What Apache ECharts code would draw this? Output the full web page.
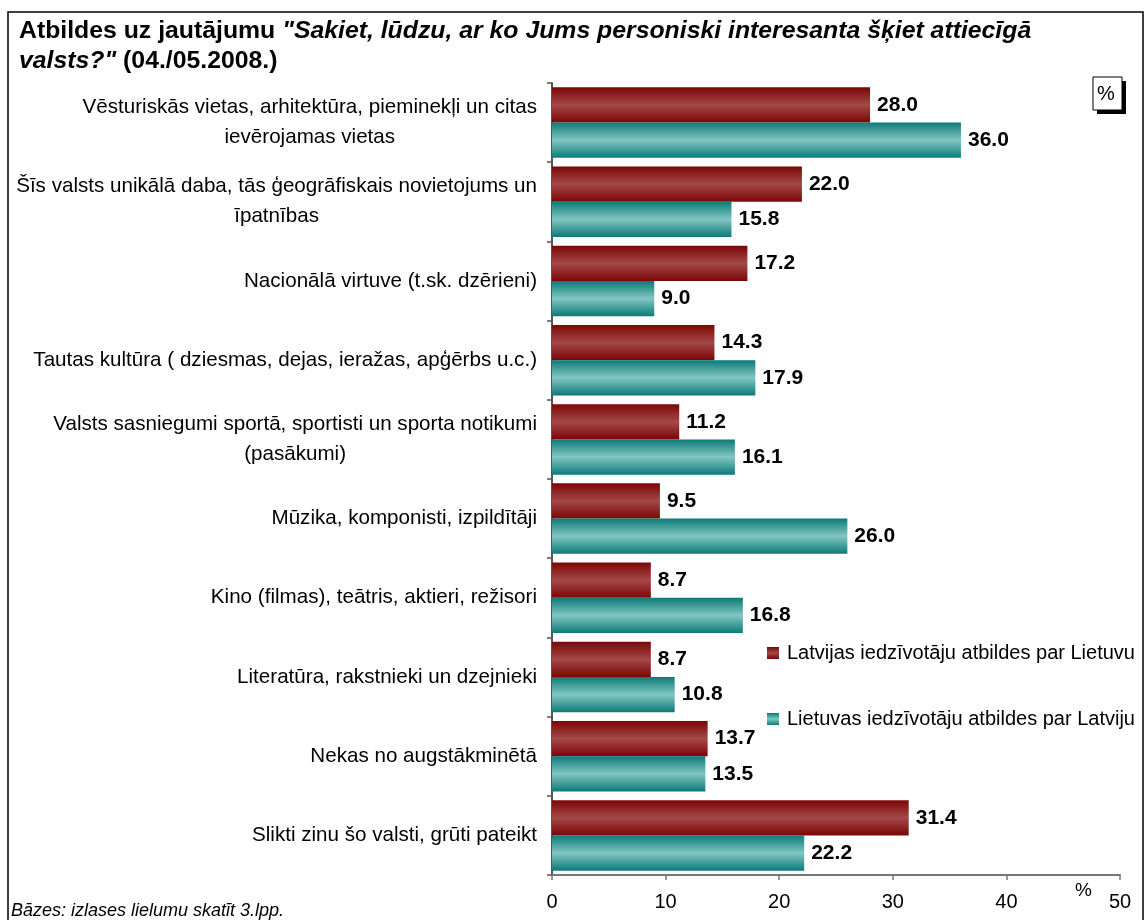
<!DOCTYPE html>
<html>
<head>
<meta charset="utf-8">
<script src="https://cdn.jsdelivr.net/npm/echarts@6/dist/echarts.min.js"></script>
<style>
html,body{margin:0;padding:0;background:#fff;}
#chart{width:1146px;height:920px;}
</style>
</head>
<body>
<div id="chart"></div>
<script>
var categories = [
	'Vēsturiskās vietas, arhitektūra, pieminekļi un citas\nievērojamas vietas',
	'Šīs valsts unikālā daba, tās ģeogrāfiskais novietojums un\nīpatnības',
	'Nacionālā virtuve (t.sk. dzērieni)',
	'Tautas kultūra ( dziesmas, dejas, ieražas, apģērbs u.c.)',
	'Valsts sasniegumi sportā, sportisti un sporta notikumi\n(pasākumi)',
	'Mūzika, komponisti, izpildītāji',
	'Kino (filmas), teātris, aktieri, režisori',
	'Literatūra, rakstnieki un dzejnieki',
	'Nekas no augstākminētā',
	'Slikti zinu šo valsti, grūti pateikt'
];
var latvijaVals = [28.0, 22.0, 17.2, 14.3, 11.2, 9.5, 8.7, 8.7, 13.7, 31.4];
var lietuvaVals = [36.0, 15.8, 9.0, 17.9, 16.1, 26.0, 16.8, 10.8, 13.5, 22.2];
var seriesNames = ['Latvijas iedzīvotāju atbildes par Lietuvu', 'Lietuvas iedzīvotāju atbildes par Latviju'];

var font = '"Liberation Sans", Arial, sans-serif';

function grad(edge, mid){
	return new echarts.graphic.LinearGradient(0, 0, 0, 1, [
		{offset: 0, color: edge},
		{offset: 0.5, color: mid},
		{offset: 1, color: edge}
	]);
}
var redFill = grad('#7c0606', '#a34848');
var tealFill = grad('#0c7a78', '#82c6c2');

var valueLabel = {
	show: true,
	position: 'right',
	distance: 7,
	formatter: function(p){ return p.value.toFixed(1); },
	fontFamily: font,
	fontWeight: 'bold',
	fontSize: 21,
	color: '#000'
};

var myChart = echarts.init(document.getElementById('chart'));
var option = {
	backgroundColor: '#fff',
	animation: false,
	title: {
		left: 14,
		top: 11,
		text: '{b|Atbildes uz jautājumu }{i|"Sakiet, lūdzu, ar ko Jums personiski interesanta šķiet attiecīgā}\n{i|valsts?"}{b| (04./05.2008.)}',
		textStyle: {
			rich: {
				b: {fontFamily: font, fontWeight: 'bold', fontSize: 24.8, color: '#000', lineHeight: 30},
				i: {fontFamily: font, fontWeight: 'bold', fontStyle: 'italic', fontSize: 24.8, color: '#000', lineHeight: 30}
			}
		}
	},
	legend: {
		orient: 'vertical',
		left: 762,
		top: 638,
		itemWidth: 12,
		itemHeight: 12,
		itemGap: 46,
		icon: 'rect',
		textStyle: {fontFamily: font, fontSize: 20, color: '#000', padding: [0, 0, 0, 3]},
		data: seriesNames
	},
	grid: {
		left: 552,
		right: 26,
		top: 83,
		bottom: 45,
		containLabel: false
	},
	xAxis: {
		type: 'value',
		min: 0,
		max: 50,
		interval: 10,
		splitLine: {show: false},
		axisLine: {show: true, lineStyle: {color: '#777', width: 2}},
		axisTick: {show: true, length: 5, lineStyle: {color: '#777', width: 1.5}},
		axisLabel: {fontFamily: font, fontSize: 20, color: '#000', margin: 17}
	},
	yAxis: {
		type: 'category',
		inverse: true,
		data: categories,
		axisLine: {show: true, lineStyle: {color: '#555', width: 2}},
		axisTick: {show: true, length: 5, lineStyle: {color: '#555', width: 1.5}},
		axisLabel: {
			margin: 15,
			align: 'right',
			formatter: function(v){ return '{c|' + v + '}'; },
			rich: {
				c: {fontFamily: font, fontSize: 20.6, color: '#000', lineHeight: 30, align: 'center'}
			}
		}
	},
	series: [
		{
			name: seriesNames[0],
			type: 'bar',
			data: latvijaVals,
			barGap: '0%',
			barCategoryGap: '11%',
			itemStyle: {color: redFill},
			label: valueLabel
		},
		{
			name: seriesNames[1],
			type: 'bar',
			data: lietuvaVals,
			barGap: '0%',
			barCategoryGap: '11%',
			itemStyle: {color: tealFill},
			label: valueLabel
		}
	],
	graphic: [
		{type: 'rect', shape: {x: 8, y: 12, width: 1135, height: 930}, style: {fill: 'none', stroke: '#000', lineWidth: 1.5}, silent: true},
		{type: 'rect', shape: {x: 1097, y: 81, width: 29, height: 33}, style: {fill: '#000'}},
		{type: 'rect', shape: {x: 1093, y: 77, width: 29, height: 33}, style: {fill: '#fff', stroke: '#000', lineWidth: 1}},
		{type: 'text', left: 1097, top: 84, style: {text: '%', fontFamily: font, fontSize: 20, fill: '#000'}},
		{type: 'text', left: 1075, top: 881, style: {text: '%', fontFamily: font, fontSize: 19, fill: '#000'}},
		{type: 'text', left: 11, top: 902, style: {text: 'Bāzes: izlases lielumu skatīt 3.lpp.', fontFamily: font, fontStyle: 'italic', fontSize: 18, fill: '#000'}}
	]
};
myChart.setOption(option, true);
</script>
</body>
</html>
